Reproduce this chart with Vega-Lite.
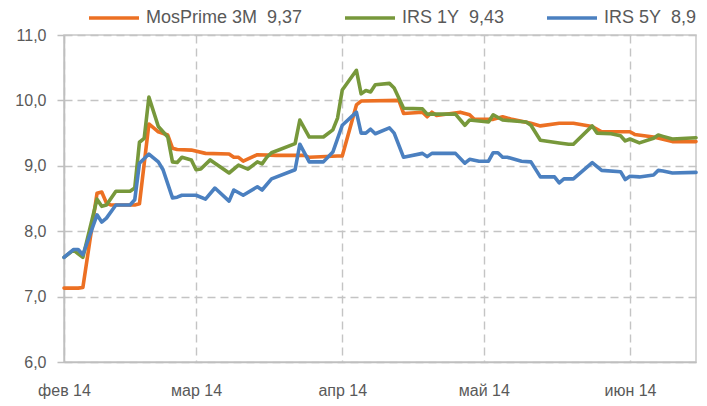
{
  "$schema": "https://vega.github.io/schema/vega-lite/v6.json",
  "width": 632,
  "height": 327,
  "autosize": {"type": "none"},
  "padding": {"left": 64, "top": 35, "right": 11, "bottom": 44},
  "background": "white",
  "config": {
    "font": "Liberation Sans",
    "view": {"stroke": "#c8c8c8", "strokeWidth": 1.5},
    "axis": {
      "labelColor": "#595959",
      "labelFontSize": 16,
      "gridColor": "#c4c4c4",
      "gridDash": [8, 5],
      "gridWidth": 1.4,
      "domainColor": "#bfbfbf",
      "domainWidth": 1.5,
      "tickColor": "#bfbfbf",
      "tickWidth": 1.5,
      "title": null
    }
  },
  "data": {
    "values": [
      {"d": "2014-02-01", "s": "MosPrime 3M\u00a0 9,37", "v": 7.13},
      {"d": "2014-02-04", "s": "MosPrime 3M\u00a0 9,37", "v": 7.13},
      {"d": "2014-02-05", "s": "MosPrime 3M\u00a0 9,37", "v": 7.14},
      {"d": "2014-02-08", "s": "MosPrime 3M\u00a0 9,37", "v": 8.58},
      {"d": "2014-02-09", "s": "MosPrime 3M\u00a0 9,37", "v": 8.6},
      {"d": "2014-02-10", "s": "MosPrime 3M\u00a0 9,37", "v": 8.43},
      {"d": "2014-02-11", "s": "MosPrime 3M\u00a0 9,37", "v": 8.4},
      {"d": "2014-02-16", "s": "MosPrime 3M\u00a0 9,37", "v": 8.4},
      {"d": "2014-02-17", "s": "MosPrime 3M\u00a0 9,37", "v": 8.42},
      {"d": "2014-02-19", "s": "MosPrime 3M\u00a0 9,37", "v": 9.64},
      {"d": "2014-02-21", "s": "MosPrime 3M\u00a0 9,37", "v": 9.52},
      {"d": "2014-02-23", "s": "MosPrime 3M\u00a0 9,37", "v": 9.47},
      {"d": "2014-02-24", "s": "MosPrime 3M\u00a0 9,37", "v": 9.27},
      {"d": "2014-02-25", "s": "MosPrime 3M\u00a0 9,37", "v": 9.25},
      {"d": "2014-02-28", "s": "MosPrime 3M\u00a0 9,37", "v": 9.24},
      {"d": "2014-03-03", "s": "MosPrime 3M\u00a0 9,37", "v": 9.19},
      {"d": "2014-03-08", "s": "MosPrime 3M\u00a0 9,37", "v": 9.18},
      {"d": "2014-03-09", "s": "MosPrime 3M\u00a0 9,37", "v": 9.13},
      {"d": "2014-03-10", "s": "MosPrime 3M\u00a0 9,37", "v": 9.13},
      {"d": "2014-03-11", "s": "MosPrime 3M\u00a0 9,37", "v": 9.07},
      {"d": "2014-03-14", "s": "MosPrime 3M\u00a0 9,37", "v": 9.17},
      {"d": "2014-03-18", "s": "MosPrime 3M\u00a0 9,37", "v": 9.16},
      {"d": "2014-03-24", "s": "MosPrime 3M\u00a0 9,37", "v": 9.16},
      {"d": "2014-03-25", "s": "MosPrime 3M\u00a0 9,37", "v": 9.13},
      {"d": "2014-03-31", "s": "MosPrime 3M\u00a0 9,37", "v": 9.15},
      {"d": "2014-04-01", "s": "MosPrime 3M\u00a0 9,37", "v": 9.15},
      {"d": "2014-04-04", "s": "MosPrime 3M\u00a0 9,37", "v": 9.93},
      {"d": "2014-04-05", "s": "MosPrime 3M\u00a0 9,37", "v": 9.99},
      {"d": "2014-04-13", "s": "MosPrime 3M\u00a0 9,37", "v": 10.0},
      {"d": "2014-04-14", "s": "MosPrime 3M\u00a0 9,37", "v": 9.8},
      {"d": "2014-04-18", "s": "MosPrime 3M\u00a0 9,37", "v": 9.82},
      {"d": "2014-04-19", "s": "MosPrime 3M\u00a0 9,37", "v": 9.75},
      {"d": "2014-04-20", "s": "MosPrime 3M\u00a0 9,37", "v": 9.82},
      {"d": "2014-04-21", "s": "MosPrime 3M\u00a0 9,37", "v": 9.77},
      {"d": "2014-04-26", "s": "MosPrime 3M\u00a0 9,37", "v": 9.82},
      {"d": "2014-04-28", "s": "MosPrime 3M\u00a0 9,37", "v": 9.78},
      {"d": "2014-04-29", "s": "MosPrime 3M\u00a0 9,37", "v": 9.71},
      {"d": "2014-05-02", "s": "MosPrime 3M\u00a0 9,37", "v": 9.71},
      {"d": "2014-05-03", "s": "MosPrime 3M\u00a0 9,37", "v": 9.71},
      {"d": "2014-05-05", "s": "MosPrime 3M\u00a0 9,37", "v": 9.75},
      {"d": "2014-05-07", "s": "MosPrime 3M\u00a0 9,37", "v": 9.71},
      {"d": "2014-05-11", "s": "MosPrime 3M\u00a0 9,37", "v": 9.65},
      {"d": "2014-05-13", "s": "MosPrime 3M\u00a0 9,37", "v": 9.61},
      {"d": "2014-05-17", "s": "MosPrime 3M\u00a0 9,37", "v": 9.65},
      {"d": "2014-05-20", "s": "MosPrime 3M\u00a0 9,37", "v": 9.65},
      {"d": "2014-05-24", "s": "MosPrime 3M\u00a0 9,37", "v": 9.6},
      {"d": "2014-05-26", "s": "MosPrime 3M\u00a0 9,37", "v": 9.52},
      {"d": "2014-06-01", "s": "MosPrime 3M\u00a0 9,37", "v": 9.52},
      {"d": "2014-06-02", "s": "MosPrime 3M\u00a0 9,37", "v": 9.48},
      {"d": "2014-06-06", "s": "MosPrime 3M\u00a0 9,37", "v": 9.44},
      {"d": "2014-06-10", "s": "MosPrime 3M\u00a0 9,37", "v": 9.37},
      {"d": "2014-06-15", "s": "MosPrime 3M\u00a0 9,37", "v": 9.37},

      {"d": "2014-02-01", "s": "IRS 1Y\u00a0 9,43", "v": 7.6},
      {"d": "2014-02-03", "s": "IRS 1Y\u00a0 9,43", "v": 7.71},
      {"d": "2014-02-05", "s": "IRS 1Y\u00a0 9,43", "v": 7.6},
      {"d": "2014-02-08", "s": "IRS 1Y\u00a0 9,43", "v": 8.49},
      {"d": "2014-02-09", "s": "IRS 1Y\u00a0 9,43", "v": 8.38},
      {"d": "2014-02-10", "s": "IRS 1Y\u00a0 9,43", "v": 8.4},
      {"d": "2014-02-12", "s": "IRS 1Y\u00a0 9,43", "v": 8.61},
      {"d": "2014-02-15", "s": "IRS 1Y\u00a0 9,43", "v": 8.61},
      {"d": "2014-02-16", "s": "IRS 1Y\u00a0 9,43", "v": 8.66},
      {"d": "2014-02-17", "s": "IRS 1Y\u00a0 9,43", "v": 9.36},
      {"d": "2014-02-18", "s": "IRS 1Y\u00a0 9,43", "v": 9.42},
      {"d": "2014-02-19", "s": "IRS 1Y\u00a0 9,43", "v": 10.05},
      {"d": "2014-02-21", "s": "IRS 1Y\u00a0 9,43", "v": 9.6},
      {"d": "2014-02-23", "s": "IRS 1Y\u00a0 9,43", "v": 9.44},
      {"d": "2014-02-24", "s": "IRS 1Y\u00a0 9,43", "v": 9.06},
      {"d": "2014-02-25", "s": "IRS 1Y\u00a0 9,43", "v": 9.05},
      {"d": "2014-02-26", "s": "IRS 1Y\u00a0 9,43", "v": 9.13},
      {"d": "2014-02-28", "s": "IRS 1Y\u00a0 9,43", "v": 9.09},
      {"d": "2014-03-01", "s": "IRS 1Y\u00a0 9,43", "v": 8.94},
      {"d": "2014-03-02", "s": "IRS 1Y\u00a0 9,43", "v": 8.95},
      {"d": "2014-03-04", "s": "IRS 1Y\u00a0 9,43", "v": 9.09},
      {"d": "2014-03-08", "s": "IRS 1Y\u00a0 9,43", "v": 8.89},
      {"d": "2014-03-10", "s": "IRS 1Y\u00a0 9,43", "v": 9.01},
      {"d": "2014-03-12", "s": "IRS 1Y\u00a0 9,43", "v": 8.95},
      {"d": "2014-03-14", "s": "IRS 1Y\u00a0 9,43", "v": 9.06},
      {"d": "2014-03-15", "s": "IRS 1Y\u00a0 9,43", "v": 9.03},
      {"d": "2014-03-16", "s": "IRS 1Y\u00a0 9,43", "v": 9.13},
      {"d": "2014-03-17", "s": "IRS 1Y\u00a0 9,43", "v": 9.2},
      {"d": "2014-03-22", "s": "IRS 1Y\u00a0 9,43", "v": 9.34},
      {"d": "2014-03-23", "s": "IRS 1Y\u00a0 9,43", "v": 9.7},
      {"d": "2014-03-25", "s": "IRS 1Y\u00a0 9,43", "v": 9.44},
      {"d": "2014-03-28", "s": "IRS 1Y\u00a0 9,43", "v": 9.44},
      {"d": "2014-03-30", "s": "IRS 1Y\u00a0 9,43", "v": 9.55},
      {"d": "2014-03-31", "s": "IRS 1Y\u00a0 9,43", "v": 9.73},
      {"d": "2014-04-01", "s": "IRS 1Y\u00a0 9,43", "v": 10.16},
      {"d": "2014-04-04", "s": "IRS 1Y\u00a0 9,43", "v": 10.46},
      {"d": "2014-04-05", "s": "IRS 1Y\u00a0 9,43", "v": 10.1},
      {"d": "2014-04-06", "s": "IRS 1Y\u00a0 9,43", "v": 10.15},
      {"d": "2014-04-07", "s": "IRS 1Y\u00a0 9,43", "v": 10.13},
      {"d": "2014-04-08", "s": "IRS 1Y\u00a0 9,43", "v": 10.24},
      {"d": "2014-04-11", "s": "IRS 1Y\u00a0 9,43", "v": 10.26},
      {"d": "2014-04-12", "s": "IRS 1Y\u00a0 9,43", "v": 10.19},
      {"d": "2014-04-14", "s": "IRS 1Y\u00a0 9,43", "v": 9.88},
      {"d": "2014-04-18", "s": "IRS 1Y\u00a0 9,43", "v": 9.87},
      {"d": "2014-04-19", "s": "IRS 1Y\u00a0 9,43", "v": 9.79},
      {"d": "2014-04-25", "s": "IRS 1Y\u00a0 9,43", "v": 9.79},
      {"d": "2014-04-27", "s": "IRS 1Y\u00a0 9,43", "v": 9.62},
      {"d": "2014-04-28", "s": "IRS 1Y\u00a0 9,43", "v": 9.7},
      {"d": "2014-05-02", "s": "IRS 1Y\u00a0 9,43", "v": 9.67},
      {"d": "2014-05-03", "s": "IRS 1Y\u00a0 9,43", "v": 9.78},
      {"d": "2014-05-05", "s": "IRS 1Y\u00a0 9,43", "v": 9.7},
      {"d": "2014-05-10", "s": "IRS 1Y\u00a0 9,43", "v": 9.67},
      {"d": "2014-05-11", "s": "IRS 1Y\u00a0 9,43", "v": 9.62},
      {"d": "2014-05-13", "s": "IRS 1Y\u00a0 9,43", "v": 9.39},
      {"d": "2014-05-17", "s": "IRS 1Y\u00a0 9,43", "v": 9.35},
      {"d": "2014-05-19", "s": "IRS 1Y\u00a0 9,43", "v": 9.33},
      {"d": "2014-05-20", "s": "IRS 1Y\u00a0 9,43", "v": 9.33},
      {"d": "2014-05-24", "s": "IRS 1Y\u00a0 9,43", "v": 9.61},
      {"d": "2014-05-25", "s": "IRS 1Y\u00a0 9,43", "v": 9.5},
      {"d": "2014-05-28", "s": "IRS 1Y\u00a0 9,43", "v": 9.49},
      {"d": "2014-05-30", "s": "IRS 1Y\u00a0 9,43", "v": 9.46},
      {"d": "2014-05-31", "s": "IRS 1Y\u00a0 9,43", "v": 9.38},
      {"d": "2014-06-01", "s": "IRS 1Y\u00a0 9,43", "v": 9.41},
      {"d": "2014-06-03", "s": "IRS 1Y\u00a0 9,43", "v": 9.35},
      {"d": "2014-06-06", "s": "IRS 1Y\u00a0 9,43", "v": 9.42},
      {"d": "2014-06-07", "s": "IRS 1Y\u00a0 9,43", "v": 9.47},
      {"d": "2014-06-08", "s": "IRS 1Y\u00a0 9,43", "v": 9.45},
      {"d": "2014-06-10", "s": "IRS 1Y\u00a0 9,43", "v": 9.41},
      {"d": "2014-06-15", "s": "IRS 1Y\u00a0 9,43", "v": 9.43},

      {"d": "2014-02-01", "s": "IRS 5Y\u00a0 8,9", "v": 7.6},
      {"d": "2014-02-03", "s": "IRS 5Y\u00a0 8,9", "v": 7.72},
      {"d": "2014-02-04", "s": "IRS 5Y\u00a0 8,9", "v": 7.72},
      {"d": "2014-02-05", "s": "IRS 5Y\u00a0 8,9", "v": 7.64},
      {"d": "2014-02-08", "s": "IRS 5Y\u00a0 8,9", "v": 8.25},
      {"d": "2014-02-09", "s": "IRS 5Y\u00a0 8,9", "v": 8.14},
      {"d": "2014-02-10", "s": "IRS 5Y\u00a0 8,9", "v": 8.2},
      {"d": "2014-02-12", "s": "IRS 5Y\u00a0 8,9", "v": 8.4},
      {"d": "2014-02-15", "s": "IRS 5Y\u00a0 8,9", "v": 8.4},
      {"d": "2014-02-16", "s": "IRS 5Y\u00a0 8,9", "v": 8.48},
      {"d": "2014-02-17", "s": "IRS 5Y\u00a0 8,9", "v": 9.04},
      {"d": "2014-02-19", "s": "IRS 5Y\u00a0 8,9", "v": 9.18},
      {"d": "2014-02-21", "s": "IRS 5Y\u00a0 8,9", "v": 9.06},
      {"d": "2014-02-22", "s": "IRS 5Y\u00a0 8,9", "v": 8.94},
      {"d": "2014-02-24", "s": "IRS 5Y\u00a0 8,9", "v": 8.51},
      {"d": "2014-02-25", "s": "IRS 5Y\u00a0 8,9", "v": 8.52},
      {"d": "2014-02-26", "s": "IRS 5Y\u00a0 8,9", "v": 8.55},
      {"d": "2014-03-01", "s": "IRS 5Y\u00a0 8,9", "v": 8.55},
      {"d": "2014-03-03", "s": "IRS 5Y\u00a0 8,9", "v": 8.49},
      {"d": "2014-03-05", "s": "IRS 5Y\u00a0 8,9", "v": 8.66},
      {"d": "2014-03-08", "s": "IRS 5Y\u00a0 8,9", "v": 8.46},
      {"d": "2014-03-09", "s": "IRS 5Y\u00a0 8,9", "v": 8.63},
      {"d": "2014-03-11", "s": "IRS 5Y\u00a0 8,9", "v": 8.55},
      {"d": "2014-03-14", "s": "IRS 5Y\u00a0 8,9", "v": 8.68},
      {"d": "2014-03-15", "s": "IRS 5Y\u00a0 8,9", "v": 8.63},
      {"d": "2014-03-17", "s": "IRS 5Y\u00a0 8,9", "v": 8.8},
      {"d": "2014-03-22", "s": "IRS 5Y\u00a0 8,9", "v": 8.94},
      {"d": "2014-03-23", "s": "IRS 5Y\u00a0 8,9", "v": 9.33},
      {"d": "2014-03-25", "s": "IRS 5Y\u00a0 8,9", "v": 9.06},
      {"d": "2014-03-28", "s": "IRS 5Y\u00a0 8,9", "v": 9.06},
      {"d": "2014-03-30", "s": "IRS 5Y\u00a0 8,9", "v": 9.21},
      {"d": "2014-04-01", "s": "IRS 5Y\u00a0 8,9", "v": 9.62},
      {"d": "2014-04-04", "s": "IRS 5Y\u00a0 8,9", "v": 9.82},
      {"d": "2014-04-05", "s": "IRS 5Y\u00a0 8,9", "v": 9.5},
      {"d": "2014-04-06", "s": "IRS 5Y\u00a0 8,9", "v": 9.5},
      {"d": "2014-04-07", "s": "IRS 5Y\u00a0 8,9", "v": 9.56},
      {"d": "2014-04-08", "s": "IRS 5Y\u00a0 8,9", "v": 9.49},
      {"d": "2014-04-11", "s": "IRS 5Y\u00a0 8,9", "v": 9.58},
      {"d": "2014-04-12", "s": "IRS 5Y\u00a0 8,9", "v": 9.5},
      {"d": "2014-04-14", "s": "IRS 5Y\u00a0 8,9", "v": 9.13},
      {"d": "2014-04-18", "s": "IRS 5Y\u00a0 8,9", "v": 9.19},
      {"d": "2014-04-19", "s": "IRS 5Y\u00a0 8,9", "v": 9.14},
      {"d": "2014-04-20", "s": "IRS 5Y\u00a0 8,9", "v": 9.19},
      {"d": "2014-04-25", "s": "IRS 5Y\u00a0 8,9", "v": 9.19},
      {"d": "2014-04-27", "s": "IRS 5Y\u00a0 8,9", "v": 9.04},
      {"d": "2014-04-28", "s": "IRS 5Y\u00a0 8,9", "v": 9.1},
      {"d": "2014-04-30", "s": "IRS 5Y\u00a0 8,9", "v": 9.07},
      {"d": "2014-05-02", "s": "IRS 5Y\u00a0 8,9", "v": 9.07},
      {"d": "2014-05-03", "s": "IRS 5Y\u00a0 8,9", "v": 9.2},
      {"d": "2014-05-04", "s": "IRS 5Y\u00a0 8,9", "v": 9.2},
      {"d": "2014-05-05", "s": "IRS 5Y\u00a0 8,9", "v": 9.13},
      {"d": "2014-05-06", "s": "IRS 5Y\u00a0 8,9", "v": 9.13},
      {"d": "2014-05-09", "s": "IRS 5Y\u00a0 8,9", "v": 9.07},
      {"d": "2014-05-11", "s": "IRS 5Y\u00a0 8,9", "v": 9.06},
      {"d": "2014-05-13", "s": "IRS 5Y\u00a0 8,9", "v": 8.83},
      {"d": "2014-05-16", "s": "IRS 5Y\u00a0 8,9", "v": 8.83},
      {"d": "2014-05-17", "s": "IRS 5Y\u00a0 8,9", "v": 8.74},
      {"d": "2014-05-18", "s": "IRS 5Y\u00a0 8,9", "v": 8.8},
      {"d": "2014-05-20", "s": "IRS 5Y\u00a0 8,9", "v": 8.8},
      {"d": "2014-05-24", "s": "IRS 5Y\u00a0 8,9", "v": 9.05},
      {"d": "2014-05-26", "s": "IRS 5Y\u00a0 8,9", "v": 8.93},
      {"d": "2014-05-30", "s": "IRS 5Y\u00a0 8,9", "v": 8.91},
      {"d": "2014-05-31", "s": "IRS 5Y\u00a0 8,9", "v": 8.79},
      {"d": "2014-06-01", "s": "IRS 5Y\u00a0 8,9", "v": 8.84},
      {"d": "2014-06-03", "s": "IRS 5Y\u00a0 8,9", "v": 8.83},
      {"d": "2014-06-06", "s": "IRS 5Y\u00a0 8,9", "v": 8.86},
      {"d": "2014-06-07", "s": "IRS 5Y\u00a0 8,9", "v": 8.93},
      {"d": "2014-06-08", "s": "IRS 5Y\u00a0 8,9", "v": 8.92},
      {"d": "2014-06-10", "s": "IRS 5Y\u00a0 8,9", "v": 8.89},
      {"d": "2014-06-15", "s": "IRS 5Y\u00a0 8,9", "v": 8.9}
    ]
  },
  "mark": {"type": "line", "strokeWidth": 3.6, "strokeJoin": "round", "strokeCap": "round"},
  "encoding": {
    "x": {
      "field": "d",
      "type": "temporal",
      "scale": {
        "type": "utc",
        "domain": [
          {"year": 2014, "month": 2, "date": 1, "utc": true},
          {"year": 2014, "month": 6, "date": 15, "utc": true}
        ]
      },
      "axis": {
        "values": [
          {"year": 2014, "month": 2, "date": 1, "utc": true},
          {"year": 2014, "month": 3, "date": 1, "utc": true},
          {"year": 2014, "month": 4, "date": 1, "utc": true},
          {"year": 2014, "month": 5, "date": 1, "utc": true},
          {"year": 2014, "month": 6, "date": 1, "utc": true}
        ],
        "labelExpr": "['янв','фев','мар','апр','май','июн','июл','авг','сен','окт','ноя','дек'][utcmonth(datum.value)] + ' 14'",
        "ticks": false,
        "labelPadding": 20,
        "labelFlush": false
      }
    },
    "y": {
      "field": "v",
      "type": "quantitative",
      "scale": {"domain": [6, 11], "nice": false, "zero": false},
      "axis": {
        "values": [6, 7, 8, 9, 10, 11],
        "labelExpr": "replace(format(datum.value, '.1f'), '.', ',')",
        "tickSize": 7,
        "labelPadding": 11
      }
    },
    "color": {
      "field": "s",
      "type": "nominal",
      "scale": {
        "domain": ["MosPrime 3M\u00a0 9,37", "IRS 1Y\u00a0 9,43", "IRS 5Y\u00a0 8,9"],
        "range": ["#EC7023", "#77983B", "#4B80C0"]
      },
      "legend": {
        "title": null,
        "orient": "none",
        "direction": "horizontal",
        "padding": 0,
        "legendX": 23,
        "legendY": -44,
        "symbolType": "stroke",
        "symbolSize": 2500,
        "symbolStrokeWidth": 3.6,
        "labelFontSize": 18,
        "labelColor": "#595959",
        "labelOffset": 5,
        "columnPadding": 34,
        "labelLimit": 300
      }
    }
  }
}
